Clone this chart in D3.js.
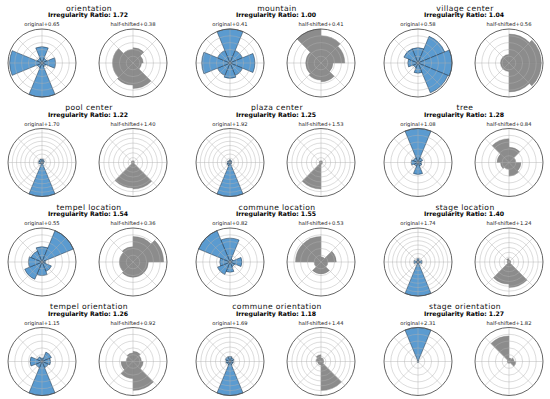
<!DOCTYPE html>
<html>
<head>
<meta charset="utf-8">
<script src="https://cdn.jsdelivr.net/npm/d3@7"></script>
<style>
  html, body { margin: 0; padding: 0; background: #fff; }
  svg { display: block; font-family: "DejaVu Sans", sans-serif; }
</style>
</head>
<body>
<svg id="chart" width="550" height="399"></svg>
<script>
// panel names and header numbers
const titles = ['orientation', 'mountain', 'village center', 'pool center', 'plaza center', 'tree',
  'tempel location', 'commune location', 'stage location', 'tempel orientation', 'commune orientation', 'stage orientation'];
const ratios = ['1.72', '1.00', '1.04', '1.22', '1.25', '1.28', '1.54', '1.55', '1.40', '1.26', '1.18', '1.27'];
const originalScores = ['0.65', '0.41', '0.58', '1.70', '1.92', '1.08', '0.55', '0.82', '1.74', '1.15', '1.69', '2.31'];
const shiftedScores = ['0.38', '0.41', '0.56', '1.40', '1.53', '0.84', '0.36', '0.53', '1.24', '0.92', '1.44', '1.82'];

// 8 bins, original centred on N, NE, E, ... ; half-shifted starts at N
const originalBins = [
  [0.48, 0.15, 0.40, 0.12, 1.00, 0.15, 0.95, 0.15],
  [1.00, 0.40, 0.73, 0.40, 0.45, 0.40, 0.83, 0.40],
  [0.45, 0.85, 1.00, 0.95, 0.30, 0.15, 0.30, 0.45],
  [0.10, 0.08, 0.05, 0.05, 1.00, 0.06, 0.10, 0.10],
  [0.08, 0.06, 0.05, 0.05, 1.00, 0.10, 0.08, 0.06],
  [1.00, 0.15, 0.10, 0.12, 0.35, 0.12, 0.20, 0.15],
  [0.45, 1.00, 0.10, 0.30, 0.40, 0.55, 0.40, 0.35],
  [0.70, 0.10, 0.35, 0.15, 0.30, 0.40, 0.30, 1.00],
  [0.10, 0.05, 0.12, 0.05, 1.00, 0.05, 0.12, 0.05],
  [0.10, 0.30, 0.25, 0.20, 1.00, 0.20, 0.35, 0.15],
  [0.15, 0.12, 0.10, 0.10, 1.00, 0.10, 0.12, 0.15],
  [1.00, 0.03, 0.02, 0.02, 0.03, 0.02, 0.02, 0.03]
];
const shiftedBins = [
  [0.45, 0.30, 0.25, 0.75, 0.65, 0.60, 0.60, 0.40],
  [0.80, 0.70, 0.35, 0.55, 0.50, 0.45, 0.45, 1.00],
  [0.85, 0.95, 0.95, 0.85, 0.25, 0.25, 0.25, 0.25],
  [0.05, 0.04, 0.04, 0.78, 0.75, 0.05, 0.05, 0.05],
  [0.05, 0.04, 0.04, 0.05, 0.78, 0.05, 0.05, 0.05],
  [0.45, 0.20, 0.35, 0.40, 0.20, 0.25, 0.35, 0.70],
  [0.75, 0.90, 0.45, 0.45, 0.45, 0.40, 0.40, 0.45],
  [0.15, 0.45, 0.20, 0.35, 0.35, 0.20, 0.75, 0.75],
  [0.05, 0.05, 0.05, 0.75, 0.65, 0.05, 0.05, 0.10],
  [0.30, 0.25, 0.30, 0.85, 0.50, 0.35, 0.20, 0.25],
  [0.10, 0.08, 0.08, 0.85, 0.10, 0.10, 0.15, 0.20],
  [0.10, 0.15, 0.20, 0.05, 0.05, 0.05, 0.05, 0.75]
];
// number of radial grid rings
const originalRings = [5, 5, 5, 8, 8, 5, 5, 5, 8, 5, 7, 5];
const shiftedRings = [5, 5, 5, 7, 7, 5, 5, 5, 7, 5, 7, 5];

const svg = d3.select('#chart');
const R = 34;
const colW = 188, rowH = 99.5;
const deg = Math.PI / 180;

titles.forEach((name, i) => {
  const col = i % 3, row = Math.floor(i / 3);
  const g = svg.append('g').attr('transform', `translate(${col * colW},${row * rowH})`);

  g.append('text').attr('x', 89).attr('y', 10.5)
    .attr('text-anchor', 'middle').attr('font-size', 7.6)
    .attr('letter-spacing', 0.4).attr('fill', '#111')
    .text(name);
  g.append('text').attr('x', 88).attr('y', 17)
    .attr('text-anchor', 'middle').attr('font-size', 6.2).attr('font-weight', 'bold')
    .text(`Irregularity Ratio: ${ratios[i]}`);

  drawRose(g, 42, 63, originalBins[i], originalRings[i], false, `original+${originalScores[i]}`);
  drawRose(g, 133, 63, shiftedBins[i], shiftedRings[i], true, `half-shifted+${shiftedScores[i]}`);
});

function drawRose(g, cx, cy, values, rings, shifted, label) {
  const r = d3.scaleLinear().domain([0, 1]).range([0, R]);
  const a = g.append('g').attr('transform', `translate(${cx},${cy})`);

  g.append('text').attr('x', cx).attr('y', cy - R - 3)
    .attr('text-anchor', 'middle').attr('font-size', 5.2).attr('fill', '#222')
    .text(label);

  // bars (patches sit under the grid, as in matplotlib)
  const off = shifted ? 0 : -22.5;
  const arc = d3.arc().innerRadius(0);
  a.selectAll('path.bar').data(values).join('path')
    .attr('class', 'bar')
    .attr('d', (v, k) => arc({
      outerRadius: r(v),
      startAngle: (off + k * 45) * deg,
      endAngle: (off + (k + 1) * 45) * deg
    }))
    .attr('fill', shifted ? '#8c8c8c' : '#5b9bd0')
    .attr('stroke', shifted ? '#6a6a6a' : '#1d2f40')
    .attr('stroke-width', shifted ? 0.35 : 0.5);

  // grid
  for (let j = 1; j < rings; j++) {
    a.append('circle').attr('r', r(j / rings))
      .attr('fill', 'none').attr('stroke', '#b0b0b0').attr('stroke-opacity', 0.75)
      .attr('stroke-width', 0.6);
  }
  for (let k = 0; k < 8; k++) {
    const t = k * 45 * deg;
    a.append('line')
      .attr('x1', 0).attr('y1', 0)
      .attr('x2', R * Math.sin(t)).attr('y2', -R * Math.cos(t))
      .attr('stroke', '#b0b0b0').attr('stroke-opacity', 0.75).attr('stroke-width', 0.6);
  }
  a.append('circle').attr('r', R)
    .attr('fill', 'none').attr('stroke', '#555').attr('stroke-width', 0.9);
}
</script>
</body>
</html>
